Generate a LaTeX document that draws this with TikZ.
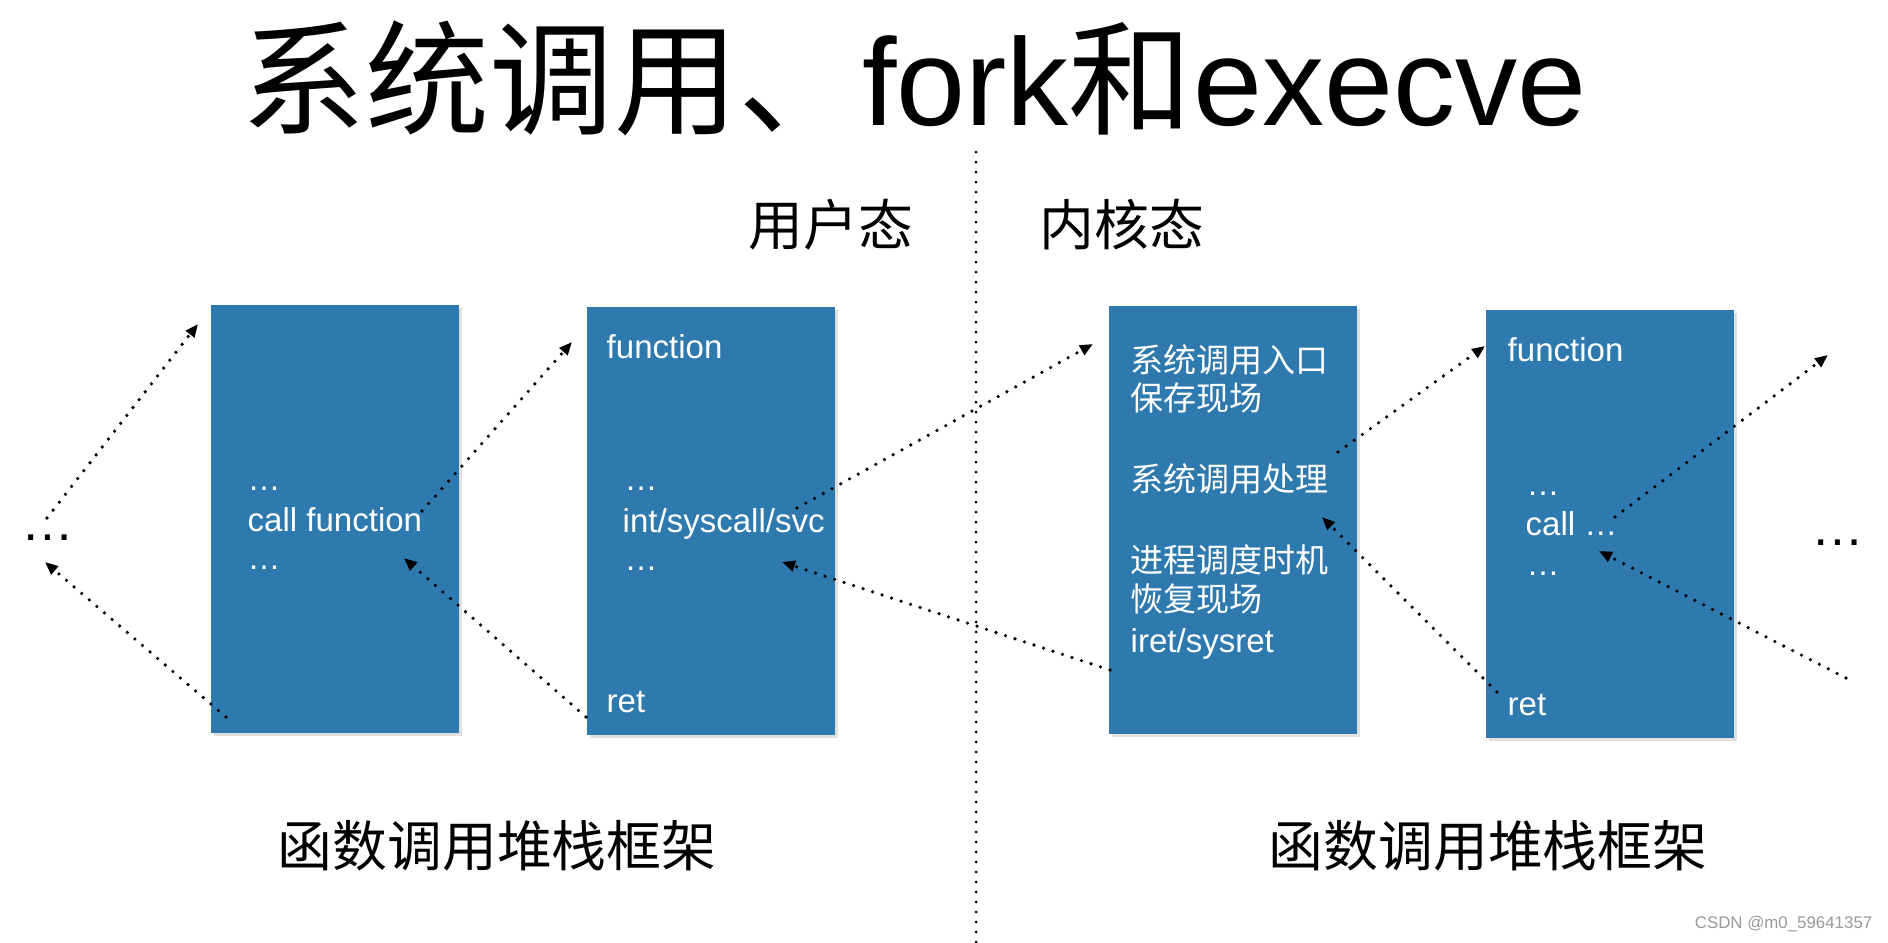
\documentclass[tikz,border=0pt]{standalone}
\usepackage{fontspec}
\setmainfont{Liberation Sans}
\newfontfamily\cjk{Noto Sans CJK SC}
\usetikzlibrary{arrows.meta,shadows}
\definecolor{stackblue}{RGB}{46,122,174}
\tikzset{
	frame/.style={fill=stackblue, inner sep=0, anchor=north west, minimum width=24.8mm, minimum height=42.8mm,
		drop shadow={shadow xshift=0.35mm, shadow yshift=-0.35mm, opacity=0.25}},
	txt/.style={text=white, inner sep=0, anchor=base west, font=\fontsize{9.4}{11}\selectfont},
	lbl/.style={inner sep=0, font=\fontsize{15.6}{18}\selectfont\cjk},
	hop/.style={line width=0.36mm, dash pattern=on 0pt off 1mm, line cap=round, ->},
}
\begin{document}
\begin{tikzpicture}[x=0.1mm, y=-0.1mm, line join=round, >={Triangle[length=1.3mm,width=1.05mm]}]
		\useasboundingbox (0,0) rectangle (1888,942);
		% title and labels
		\node[inner sep=0, anchor=base, font=\fontsize{35.3}{40}\selectfont] (title) at (914,125) {{\cjk 系统调用、}fork{\cjk 和}execve};
		\node[lbl] (user) at (831,225) {用户态};
		\node[lbl] (kernel) at (1122,225) {内核态};
		\node[lbl] (frames1) at (497,846) {函数调用堆栈框架};
		\node[lbl] (frames2) at (1488,846) {函数调用堆栈框架};
		\draw[line width=0.3mm, dash pattern=on 0pt off 1mm, line cap=round] (976,152) -- (976,942);
		% stack frames
		\node[frame] (f1) at (210,304) {};
		\node[frame] (f2) at (586,306) {};
		\node[frame] (f3) at (1108,305) {};
		\node[frame] (f4) at (1485,309) {};
		\node[txt] (f1a) at (247,490) {…};
		\node[txt] (f1call) at (247,531) {call function};
		\node[txt] (f1b) at (247,569) {…};
		\node[txt] (f2fn) at (606,358) {function};
		\node[txt] (f2a) at (624,490) {…};
		\node[txt] (f2sys) at (622,532) {int/syscall/svc};
		\node[txt] (f2b) at (624,570) {…};
		\node[txt] (f2ret) at (606,712) {ret};
		\node[txt] (f3entry) at (1130,372) {\cjk 系统调用入口};
		\node[txt] (f3save) at (1130,410) {\cjk 保存现场};
		\node[txt] (f3proc) at (1130,491) {\cjk 系统调用处理};
		\node[txt] (f3sched) at (1130,572) {\cjk 进程调度时机};
		\node[txt] (f3restore) at (1130,611) {\cjk 恢复现场};
		\node[txt] (f3iret) at (1130,652) {iret/sysret};
		\node[txt] (f4fn) at (1507,361) {function};
		\node[txt] (f4a) at (1526,495) {…};
		\node[txt] (f4call) at (1525,535) {call …};
		\node[txt] (f4b) at (1526,575) {…};
		\node[txt] (f4ret) at (1507,715) {ret};
		\node[inner sep=0, anchor=base, font=\fontsize{15}{18}\selectfont] (lell) at (48,540) {…};
		\node[inner sep=0, anchor=base, font=\fontsize{15}{18}\selectfont] (rell) at (1838,545) {…};
		\node[inner sep=0, anchor=base east, text=black!40, font=\fontsize{4.8}{6}\selectfont] (mark) at (1873,928) {CSDN @m0\_59641357};
		% arrow ends
		\coordinate (dotsup) at (47,518);
		\coordinate (f1in) at (198,324);
		\coordinate (f1out) at (226,717);
		\coordinate (dotslo) at (45,562);
		\coordinate (callout) at (422,511);
		\coordinate (f2in) at (572,342);
		\coordinate (f2out) at (586,717);
		\coordinate (callback) at (404,558);
		\coordinate (sysout) at (797,508);
		\coordinate (f3in) at (1093,344);
		\coordinate (f3out) at (1110,670);
		\coordinate (sysback) at (782,562);
		\coordinate (procout) at (1338,452);
		\coordinate (f4in) at (1485,346);
		\coordinate (f4out) at (1497,692);
		\coordinate (procback) at (1322,517);
		\coordinate (call4out) at (1615,517);
		\coordinate (nextin) at (1828,355);
		\coordinate (nextout) at (1846,678);
		\coordinate (call4back) at (1599,551);
		% calls and returns
		\draw[hop] (dotsup) -- (f1in);
		\draw[hop] (f1out) -- (dotslo);
		\draw[hop] (callout) -- (f2in);
		\draw[hop] (f2out) -- (callback);
		\draw[hop] (sysout) -- (f3in);
		\draw[hop] (f3out) -- (sysback);
		\draw[hop] (procout) -- (f4in);
		\draw[hop] (f4out) -- (procback);
		\draw[hop] (call4out) -- (nextin);
		\draw[hop] (nextout) -- (call4back);
\end{tikzpicture}
\end{document}
